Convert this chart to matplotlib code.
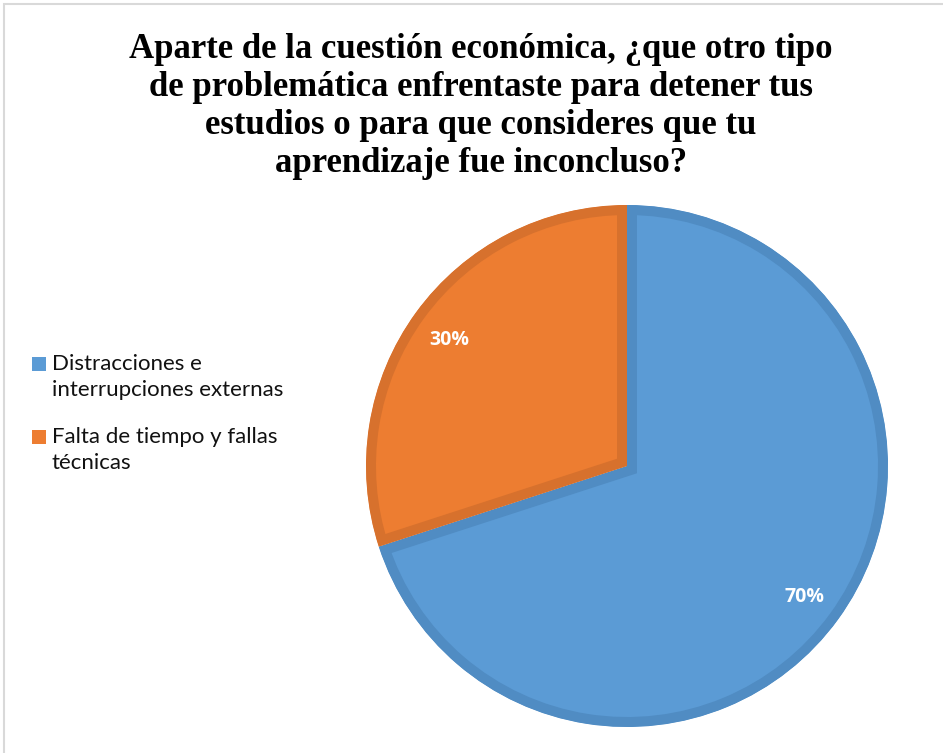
import matplotlib.pyplot as plt
from matplotlib.patches import Rectangle

# data
labels = ['Distracciones e\ninterrupciones externas', 'Falta de tiempo y fallas\ntécnicas']
values = [70, 30]
colors = ['#5B9BD5', '#ED7D31']
edge_colors = ['#508CC3', '#D7712D']
title = ('Aparte de la cuestión económica, ¿que otro tipo\n'
         'de problemática enfrentaste para detener tus\n'
         'estudios o para que consideres que tu\n'
         'aprendizaje fue inconcluso?')

W, H = 943, 753
fig = plt.figure(figsize=(W / 100, H / 100), dpi=100)

# light frame (top and left visible)
fig.patches.append(Rectangle((4 / W, -0.1), 1.2, (H - 4) / H + 0.1, transform=fig.transFigure,
                             fill=False, edgecolor='#D9D9D9', linewidth=1.5))

fig.text(481 / W, 1 - 106 / H, title, ha='center', va='center', family='Liberation Serif',
         fontweight='bold', fontsize=25, linespacing=1.2)

# pie axes: center (627, 466) px, radius 261 px
cx, cy, r = 627, 466, 261
ax = fig.add_axes([(cx - r) / W, (H - cy - r) / H, 2 * r / W, 2 * r / H])
wedges, texts, autotexts = ax.pie(values, colors=colors, startangle=90, counterclock=False,
                                  autopct='%1.0f%%', pctdistance=0.84, radius=1,
                                  textprops=dict(color='white', fontweight='bold',
                                                 fontsize=14, family='Open Sans'))
for t in autotexts:
    t.set_va('center_baseline')
# inner border: stroke clipped to the wedge itself
for w, ec in zip(wedges, edge_colors):
    w.set_edgecolor(ec)
    w.set_linewidth(14.4)
    w.set_clip_on(True)
    w.set_clip_path(w)
ax.set_xlim(-1, 1)
ax.set_ylim(-1, 1)
ax.set_aspect('equal')
ax.axis('off')

# legend drawn manually
sq_y = [357, 430]
for lab, col, y in zip(labels, colors, sq_y):
    fig.patches.append(Rectangle((32 / W, 1 - (y + 14) / H), 14 / W, 14 / H,
                                 transform=fig.transFigure, facecolor=col, edgecolor='none'))
    fig.text(52 / W, 1 - (y + 20) / H, lab, ha='left', va='center', family='Lato',
             fontsize=16, linespacing=1.4, color='#111111')

fig.savefig('out.png', dpi=100)
